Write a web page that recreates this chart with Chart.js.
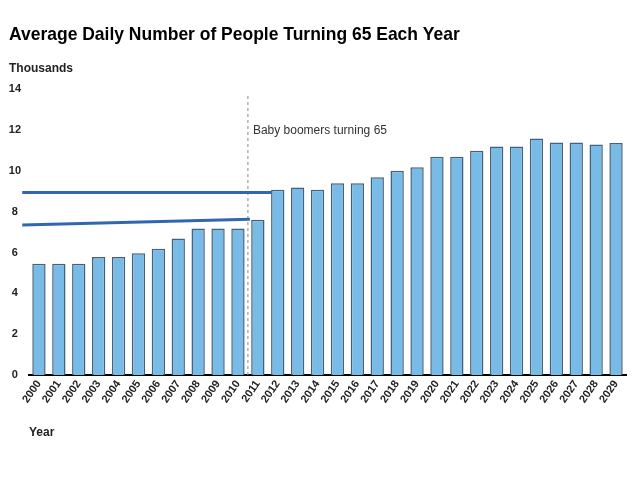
<!DOCTYPE html>
<html>
<head>
<meta charset="utf-8">
<script src="https://cdn.jsdelivr.net/npm/chart.js@4.4.0/dist/chart.umd.min.js"></script>
<style>
  html, body { margin: 0; padding: 0; background: #fff; }
  #wrap { width: 640px; height: 480px; }
</style>
</head>
<body>
<div id="wrap"><canvas id="chart" width="640" height="480"></canvas></div>
<script>
// years and average daily number of people turning 65 (thousands)
const years = ['2000', '2001', '2002', '2003', '2004', '2005', '2006', '2007', '2008', '2009',
               '2010', '2011', '2012', '2013', '2014', '2015', '2016', '2017', '2018', '2019',
               '2020', '2021', '2022', '2023', '2024', '2025', '2026', '2027', '2028', '2029'];
const people = [5.45, 5.45, 5.45, 5.78, 5.78, 5.96, 6.18, 6.68, 7.17, 7.17,
                7.17, 7.6, 9.07, 9.18, 9.07, 9.39, 9.39, 9.69, 10.0, 10.18,
                10.69, 10.69, 10.98, 11.19, 11.19, 11.58, 11.39, 11.39, 11.29, 11.37];

// marker lines, x given as (fractional) year index
const boomerStart = [{ x: 10.5, y: 0 }, { x: 10.5, y: 13.75 }];
const upperMark = [{ x: -0.84, y: 8.94 }, { x: 11.7, y: 8.94 }];
const lowerMark = [{ x: -0.84, y: 7.35 }, { x: 10.6, y: 7.63 }];
const boomerNote = { text: 'Baby boomers turning 65', x: 10.5, y: 11.95 };

const chartTitle = 'Average Daily Number of People Turning 65 Each Year';

function strokePath(chart, pts, color, width, dash) {
    const ctx = chart.ctx;
    const sx = chart.scales.x, sy = chart.scales.y;
    ctx.save();
    ctx.strokeStyle = color;
    ctx.lineWidth = width;
    ctx.setLineDash(dash || []);
    ctx.beginPath();
    pts.forEach((p, i) => {
        const px = sx.getPixelForValue(p.x);
        const py = sy.getPixelForValue(p.y);
        if (i === 0) ctx.moveTo(px, py); else ctx.lineTo(px, py);
    });
    ctx.stroke();
    ctx.restore();
}

const markers = {
    id: 'markers',
    beforeDatasetsDraw(chart) {
        strokePath(chart, boomerStart, '#9a9a9a', 1.2, [3, 3]);
    },
    afterDatasetsDraw(chart) {
        strokePath(chart, upperMark, '#3366b0', 3);
        strokePath(chart, lowerMark, '#3366b0', 3);
        const ctx = chart.ctx;
        const px = chart.scales.x.getPixelForValue(boomerNote.x) + 5;
        const py = chart.scales.y.getPixelForValue(boomerNote.y);
        ctx.save();
        ctx.font = '12px "Liberation Sans", Arial, sans-serif';
        ctx.fillStyle = '#333';
        ctx.textAlign = 'left';
        ctx.textBaseline = 'middle';
        ctx.fillText(boomerNote.text, px, py);
        ctx.restore();
    },
    afterDraw(chart) {
        // condensed bold headline
        const ctx = chart.ctx;
        ctx.save();
        ctx.font = 'bold 18.5px "Liberation Sans", Arial, sans-serif';
        ctx.fillStyle = '#000';
        ctx.textBaseline = 'alphabetic';
        ctx.translate(9, 40);
        ctx.scale(0.945, 1);
        ctx.fillText(chartTitle, 0, 0);
        ctx.restore();
    }
};

new Chart(document.getElementById('chart'), {
    type: 'bar',
    data: {
        labels: years,
        datasets: [{
            label: 'People turning 65',
            data: people,
            backgroundColor: '#77bbe6',
            borderColor: '#44607a',
            borderWidth: 1.5,
            barPercentage: 0.67,
            categoryPercentage: 1
        }]
    },
    options: {
        responsive: false,
        animation: false,
        layout: { padding: { left: 9, right: 14, top: 48, bottom: 28 } },
        plugins: {
            legend: { display: false },
            tooltip: { enabled: false },
            title: { display: false },
            subtitle: {
                display: true,
                text: 'Thousands',
                align: 'start',
                color: '#222',
                font: { family: '"Liberation Sans", Arial, sans-serif', size: 12, weight: 'bold' },
                padding: { top: 13.4, bottom: 13.4 }
            }
        },
        scales: {
            x: {
                grid: { display: false, drawTicks: false },
                border: { display: true, color: '#000', width: 2 },
                ticks: {
                    color: '#222',
                    font: { family: '"Liberation Sans", Arial, sans-serif', size: 11, weight: 'bold' },
                    minRotation: 55,
                    maxRotation: 55,
                    autoSkip: false,
                    padding: 3
                },
                title: {
                    display: true,
                    text: 'Year',
                    align: 'start',
                    color: '#222',
                    font: { family: '"Liberation Sans", Arial, sans-serif', size: 12, weight: 'bold' },
                    padding: { top: 17, bottom: 12 }
                }
            },
            y: {
                min: 0,
                max: 14,
                grid: { display: false, drawTicks: false },
                border: { display: false },
                afterFit(scale) { scale.width = 20; },
                ticks: {
                    stepSize: 2,
                    color: '#222',
                    crossAlign: 'center',
                    padding: 8,
                    font: { family: '"Liberation Sans", Arial, sans-serif', size: 11, weight: 'bold' }
                }
            }
        }
    },
    plugins: [markers]
});
</script>
</body>
</html>
